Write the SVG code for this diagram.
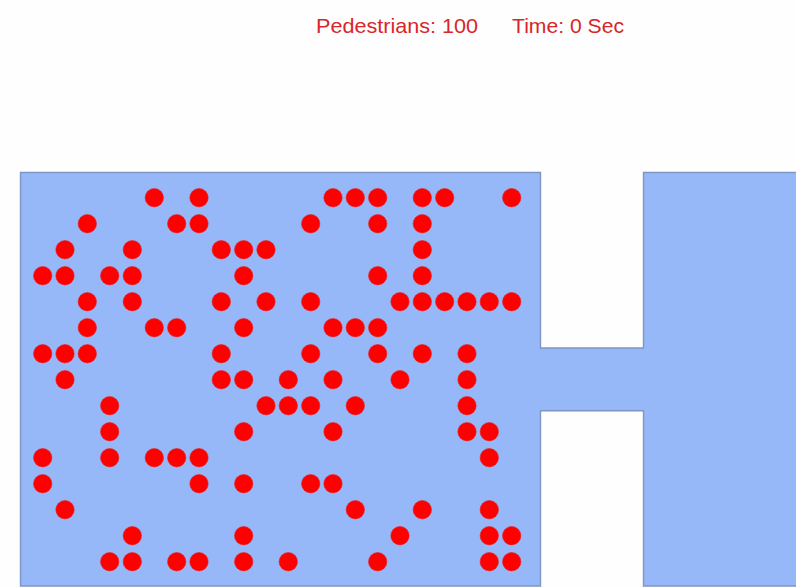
<svg xmlns="http://www.w3.org/2000/svg" width="796" height="587" viewBox="0 0 796 587">
<style>
.p{fill:#ff0000;stroke:#f01818;stroke-width:0.6}
.t{font-family:"Liberation Sans",Arial,sans-serif;font-size:21px;fill:#d8262a}
.room{fill:#97b8f8;stroke:#7d97c4;stroke-width:1.4}
</style>
<rect width="796" height="587" fill="#fefefe"/>
<g id="header">
<text class="t" x="316" y="33" textLength="162" lengthAdjust="spacingAndGlyphs">Pedestrians: 100</text>
<text class="t" x="512" y="33" textLength="112" lengthAdjust="spacingAndGlyphs">Time: 0 Sec</text>
</g>
<g id="floor">
<path class="room" d="M20.5,172.5 H540.5 V348 H643.5 V172.5 H797 V586 H643.5 V410.7 H540.5 V586 H20.5 Z"/>
</g>
<g id="pedestrians">
<!-- row 0 y=197.7 -->
<circle class="p" cx="154.3" cy="197.7" r="9.2"/><circle class="p" cx="199" cy="197.7" r="9.2"/><circle class="p" cx="333" cy="197.7" r="9.2"/><circle class="p" cx="355.3" cy="197.7" r="9.2"/><circle class="p" cx="377.7" cy="197.7" r="9.2"/><circle class="p" cx="422.3" cy="197.7" r="9.2"/><circle class="p" cx="444.7" cy="197.7" r="9.2"/><circle class="p" cx="511.7" cy="197.7" r="9.2"/>
<!-- row 1 -->
<circle class="p" cx="87.3" cy="223.7" r="9.2"/><circle class="p" cx="176.7" cy="223.7" r="9.2"/><circle class="p" cx="199" cy="223.7" r="9.2"/><circle class="p" cx="310.7" cy="223.7" r="9.2"/><circle class="p" cx="377.7" cy="223.7" r="9.2"/><circle class="p" cx="422.3" cy="223.7" r="9.2"/>
<!-- row 2 -->
<circle class="p" cx="65" cy="249.7" r="9.2"/><circle class="p" cx="132.3" cy="249.7" r="9.2"/><circle class="p" cx="221.3" cy="249.7" r="9.2"/><circle class="p" cx="243.7" cy="249.7" r="9.2"/><circle class="p" cx="266" cy="249.7" r="9.2"/><circle class="p" cx="422.3" cy="249.7" r="9.2"/>
<!-- row 3 -->
<circle class="p" cx="42.7" cy="275.7" r="9.2"/><circle class="p" cx="65" cy="275.7" r="9.2"/><circle class="p" cx="109.7" cy="275.7" r="9.2"/><circle class="p" cx="132.3" cy="275.7" r="9.2"/><circle class="p" cx="243.7" cy="275.7" r="9.2"/><circle class="p" cx="377.7" cy="275.7" r="9.2"/><circle class="p" cx="422.3" cy="275.7" r="9.2"/>
<!-- row 4 -->
<circle class="p" cx="87.3" cy="301.7" r="9.2"/><circle class="p" cx="132.3" cy="301.7" r="9.2"/><circle class="p" cx="221.3" cy="301.7" r="9.2"/><circle class="p" cx="266" cy="301.7" r="9.2"/><circle class="p" cx="310.7" cy="301.7" r="9.2"/><circle class="p" cx="400" cy="301.7" r="9.2"/><circle class="p" cx="422.3" cy="301.7" r="9.2"/><circle class="p" cx="444.7" cy="301.7" r="9.2"/><circle class="p" cx="467" cy="301.7" r="9.2"/><circle class="p" cx="489.3" cy="301.7" r="9.2"/><circle class="p" cx="511.7" cy="301.7" r="9.2"/>
<!-- row 5 -->
<circle class="p" cx="87.3" cy="327.7" r="9.2"/><circle class="p" cx="154.3" cy="327.7" r="9.2"/><circle class="p" cx="176.7" cy="327.7" r="9.2"/><circle class="p" cx="243.7" cy="327.7" r="9.2"/><circle class="p" cx="333" cy="327.7" r="9.2"/><circle class="p" cx="355.3" cy="327.7" r="9.2"/><circle class="p" cx="377.7" cy="327.7" r="9.2"/>
<!-- row 6 -->
<circle class="p" cx="42.7" cy="353.7" r="9.2"/><circle class="p" cx="65" cy="353.7" r="9.2"/><circle class="p" cx="87.3" cy="353.7" r="9.2"/><circle class="p" cx="221.3" cy="353.7" r="9.2"/><circle class="p" cx="310.7" cy="353.7" r="9.2"/><circle class="p" cx="377.7" cy="353.7" r="9.2"/><circle class="p" cx="422.3" cy="353.7" r="9.2"/><circle class="p" cx="467" cy="353.7" r="9.2"/>
<!-- row 7 -->
<circle class="p" cx="65" cy="379.7" r="9.2"/><circle class="p" cx="221.3" cy="379.7" r="9.2"/><circle class="p" cx="243.7" cy="379.7" r="9.2"/><circle class="p" cx="288.3" cy="379.7" r="9.2"/><circle class="p" cx="333" cy="379.7" r="9.2"/><circle class="p" cx="400" cy="379.7" r="9.2"/><circle class="p" cx="467" cy="379.7" r="9.2"/>
<!-- row 8 -->
<circle class="p" cx="109.7" cy="405.7" r="9.2"/><circle class="p" cx="266" cy="405.7" r="9.2"/><circle class="p" cx="288.3" cy="405.7" r="9.2"/><circle class="p" cx="310.7" cy="405.7" r="9.2"/><circle class="p" cx="355.3" cy="405.7" r="9.2"/><circle class="p" cx="467" cy="405.7" r="9.2"/>
<!-- row 9 -->
<circle class="p" cx="109.7" cy="431.7" r="9.2"/><circle class="p" cx="243.7" cy="431.7" r="9.2"/><circle class="p" cx="333" cy="431.7" r="9.2"/><circle class="p" cx="467" cy="431.7" r="9.2"/><circle class="p" cx="489.3" cy="431.7" r="9.2"/>
<!-- row 10 -->
<circle class="p" cx="42.7" cy="457.7" r="9.2"/><circle class="p" cx="109.7" cy="457.7" r="9.2"/><circle class="p" cx="154.3" cy="457.7" r="9.2"/><circle class="p" cx="176.7" cy="457.7" r="9.2"/><circle class="p" cx="199" cy="457.7" r="9.2"/><circle class="p" cx="489.3" cy="457.7" r="9.2"/>
<!-- row 11 -->
<circle class="p" cx="42.7" cy="483.7" r="9.2"/><circle class="p" cx="199" cy="483.7" r="9.2"/><circle class="p" cx="243.7" cy="483.7" r="9.2"/><circle class="p" cx="310.7" cy="483.7" r="9.2"/><circle class="p" cx="333" cy="483.7" r="9.2"/>
<!-- row 12 -->
<circle class="p" cx="65" cy="509.7" r="9.2"/><circle class="p" cx="355.3" cy="509.7" r="9.2"/><circle class="p" cx="422.3" cy="509.7" r="9.2"/><circle class="p" cx="489.3" cy="509.7" r="9.2"/>
<!-- row 13 -->
<circle class="p" cx="132.3" cy="535.7" r="9.2"/><circle class="p" cx="243.7" cy="535.7" r="9.2"/><circle class="p" cx="400" cy="535.7" r="9.2"/><circle class="p" cx="489.3" cy="535.7" r="9.2"/><circle class="p" cx="511.7" cy="535.7" r="9.2"/>
<!-- row 14 -->
<circle class="p" cx="109.7" cy="561.7" r="9.2"/><circle class="p" cx="132.3" cy="561.7" r="9.2"/><circle class="p" cx="176.7" cy="561.7" r="9.2"/><circle class="p" cx="199" cy="561.7" r="9.2"/><circle class="p" cx="243.7" cy="561.7" r="9.2"/><circle class="p" cx="288.3" cy="561.7" r="9.2"/><circle class="p" cx="377.7" cy="561.7" r="9.2"/><circle class="p" cx="489.3" cy="561.7" r="9.2"/><circle class="p" cx="511.7" cy="561.7" r="9.2"/>
</g>
</svg>
